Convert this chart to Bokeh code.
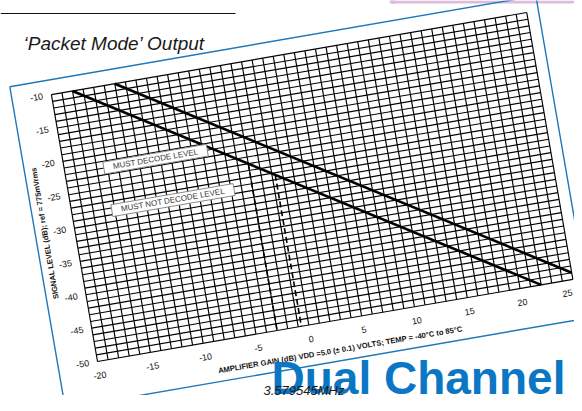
import numpy as np
from bokeh.plotting import figure
from bokeh.models import Range1d
from bokeh.core.properties import value
from bokeh.embed import file_html
from bokeh.resources import INLINE

# ---------------- data ----------------
gain_ticks = [-20, -15, -10, -5, 0, 5, 10, 15, 20, 25]
level_ticks = [-10, -15, -20, -25, -30, -35, -40, -45, -50]
grid_gain = list(range(-20, 26))
grid_level = list(range(-50, -9))
must_decode_gain = [-14, 25]
must_decode_level = [-10, -49]
must_not_decode_gain = [-18, 22]
must_not_decode_level = [-10, -50]
marker_gain = [-3.0, -0.7]
label_text = ["MUST DECODE LEVEL", "MUST NOT DECODE LEVEL"]
label_gain = [-11.45, -10.5]
label_level = [-22.0, -28.4]
x_title = "AMPLIFIER GAIN (dB) VDD =5.0 (\u00b1 0.1) VOLTS; TEMP = -40\u00b0C to 85\u00b0C"
y_title = "SIGNAL LEVEL (dB); ref = 775mVrms"

# ---------------- layout (rotated chart sheet) ----------------
W, H = 574, 395


def down(d):
    """page position measured from the top edge -> plot y"""
    return H - d


THETA = np.radians(9.8)
ORIGIN = (97.0, down(361))   # page position of gain=-20, level=-50
SX, SY = 10.72, 6.77         # px per dB along each rotated axis
G0, L0 = -20.0, -50.0
C, S = np.cos(THETA), np.sin(THETA)


def place(g, l):
    u = (np.asarray(g, dtype=float) - G0) * SX
    v = (np.asarray(l, dtype=float) - L0) * SY
    return ORIGIN[0] + u * C - v * S, ORIGIN[1] + u * S + v * C


p = figure(width=W, height=H, output_backend="svg", toolbar_location=None,
           x_range=Range1d(0, W), y_range=Range1d(0, H), min_border=0)
p.axis.visible = False
p.grid.visible = False
p.outline_line_color = None
p.background_fill_color = "white"
p.border_fill_color = "white"

FONT = value("Liberation Sans")

# pink tab at the top right
p.quad(left=[392], right=[W], bottom=[down(3)], top=[H],
       fill_color="#dcbedc", line_color=None)
p.circle([392], [down(0.5)], radius=3, radius_units="screen",
         fill_color="#dcbedc", line_color=None)

# blue frame around the sheet
fg = [-23.7, 26.1, 26.1, -23.7, -23.7]
fl = [-7.8, -7.8, -56.0, -56.0, -7.8]
fx, fy = place(fg, fl)
p.line(fx, fy, line_color="#1f78b9", line_width=1.4)

# graph-paper grid
xs, ys = [], []
for g in grid_gain:
    x, y = place([g, g], [grid_level[0], grid_level[-1]])
    xs.append(list(x)); ys.append(list(y))
for l in grid_level:
    x, y = place([grid_gain[0], grid_gain[-1]], [l, l])
    xs.append(list(x)); ys.append(list(y))
p.multi_line(xs, ys, line_color="black", line_width=1.15)

# dashed gain markers down from the must-not-decode line
mxs, mys = [], []
for g in marker_gain:
    top = np.interp(g, must_not_decode_gain, must_not_decode_level)
    x, y = place([g, g], [top, grid_level[0]])
    mxs.append(list(x)); mys.append(list(y))
p.multi_line(mxs, mys, line_color="black", line_width=1.6, line_dash="6 3")

# decode level lines
x, y = place(must_decode_gain, must_decode_level)
p.line(x, y, line_color="black", line_width=2.6)
x, y = place(must_not_decode_gain, must_not_decode_level)
p.line(x, y, line_color="black", line_width=2.6)

# level labels in boxes
lx, ly = place(label_gain, label_level)
p.rect(lx, ly, width=[105, 124], height=12, angle=THETA,
       width_units="screen", height_units="screen",
       fill_color="white", line_color="#8a8a8a", line_width=1)
p.text(lx, ly, text=label_text, angle=THETA, text_font=FONT,
       text_font_size="8px", text_color="#3a3a3a",
       text_align="center", text_baseline="middle")

# tick labels
tx, ty = place([-21.4] * len(level_ticks), level_ticks)
p.text(tx, ty, text=[str(v) for v in level_ticks], angle=THETA, text_font=FONT,
       text_font_size="9px", text_color="#111111",
       text_align="center", text_baseline="middle")
tx, ty = place(gain_ticks, [-52.1] * len(gain_ticks))
tx = np.minimum(tx, W - 7)   # keep the last label inside the page
p.text(tx, ty, text=[str(v) for v in gain_ticks], angle=THETA, text_font=FONT,
       text_font_size="9px", text_color="#111111",
       text_align="center", text_baseline="middle")

# axis titles
ax, ay = place([2.5], [-54.4])
p.text(ax, ay, text=[x_title], angle=THETA, text_font=FONT,
       text_font_size="7.6px", text_font_style="bold", text_color="#111111",
       text_align="center", text_baseline="middle")
ax, ay = place([-22.8], [-30.0])
p.text(ax, ay, text=[y_title], angle=THETA + np.pi / 2, text_font=FONT,
       text_font_size="7.6px", text_font_style="bold", text_color="#111111",
       text_align="center", text_baseline="middle")

# header rule and title
p.line([0, 235], [down(13), down(13)], line_color="#111111", line_width=1.2)
p.text([23], [down(42.5)], text=["\u2018Packet Mode\u2019 Output"], text_font=FONT,
       text_font_size="19px", text_font_style="italic", text_color="#1a1a1a",
       text_align="left", text_baseline="alphabetic")

# big caption
p.text([271], [down(377)], text=["Dual Channel"], text_font=FONT,
       text_font_size="46px", text_font_style="bold", text_color="#0b77c4",
       text_align="left", text_baseline="alphabetic")

# clock frequency note under the caption
p.text([263], [down(390)], text=["3.579545MHz"], text_font=FONT,
       text_font_size="13px", text_font_style="italic", text_color="#1a1a1a",
       text_align="left", text_baseline="alphabetic")

open("out.html", "w").write(file_html(p, INLINE))
